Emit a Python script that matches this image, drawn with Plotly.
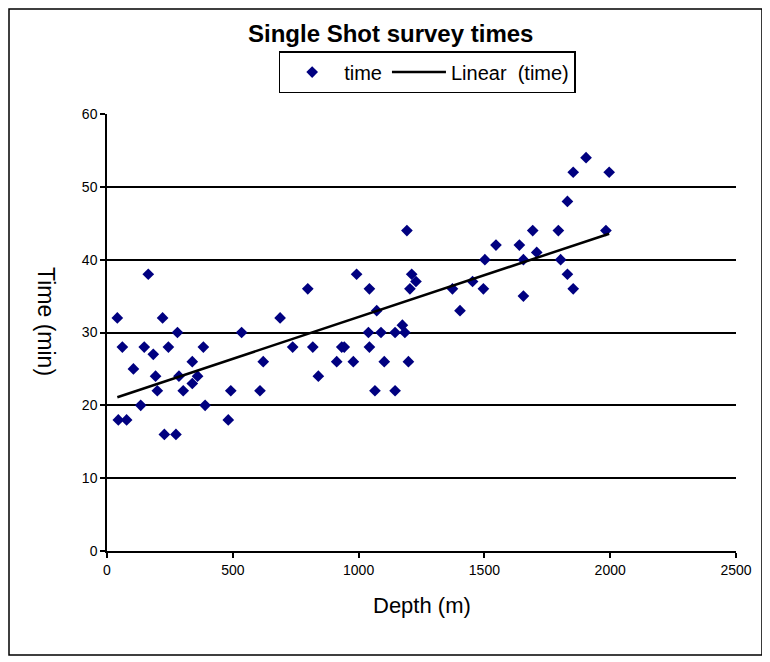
import numpy as np
import plotly.graph_objects as go

# Data
depth_m = [41, 45, 61, 78, 105, 134, 148, 164, 184, 193, 200, 221, 228, 244, 274, 280, 286, 303, 339, 339,
           360, 383, 390, 482, 492, 535, 608, 621, 688, 738,
           798, 818, 840, 913, 933, 943, 979, 992, 1039, 1043, 1043, 1065, 1072, 1089, 1102, 1145, 1145,
           1174, 1184, 1192, 1198, 1204, 1211, 1228,
           1373, 1403, 1453, 1496, 1502, 1546, 1639, 1655, 1655, 1692, 1708, 1794, 1803, 1830, 1830, 1853,
           1853, 1904, 1983, 1996]
time_min = [32, 18, 28, 18, 25, 20, 28, 38, 27, 24, 22, 32, 16, 28, 16, 30, 24, 22, 26, 23,
            24, 28, 20, 18, 22, 30, 22, 26, 32, 28,
            36, 28, 24, 26, 28, 28, 26, 38, 30, 36, 28, 22, 33, 30, 26, 30, 22,
            31, 30, 44, 26, 36, 38, 37,
            36, 33, 37, 36, 40, 42, 42, 40, 35, 44, 41, 44, 40, 48, 38, 52,
            36, 54, 44, 52]

x_ticks = [0, 500, 1000, 1500, 2000, 2500]
y_ticks = [0, 10, 20, 30, 40, 50, 60]

# Linear trendline (least squares), drawn across the data's depth range
slope, intercept = np.polyfit(depth_m, time_min, 1)
trend_x = [min(depth_m), max(depth_m)]
trend_y = [slope * v + intercept for v in trend_x]

FONT = "Arial, Liberation Sans, sans-serif"

fig = go.Figure()
fig.add_trace(go.Scatter(
    x=depth_m, y=time_min, mode="markers", name="time",
    marker=dict(symbol="diamond", size=9, color="#000080", line=dict(width=0)),
))
fig.add_trace(go.Scatter(
    x=trend_x, y=trend_y, mode="lines", name="Linear  (time)",
    line=dict(color="black", width=2.5),
))

fig.update_layout(
    width=762, height=654,
    margin=dict(l=99, r=34, t=106, b=111),
    paper_bgcolor="white", plot_bgcolor="white",
    font=dict(family=FONT, color="black"),
    showlegend=True,
    legend=dict(
        orientation="h", x=0.509, xanchor="center", y=1.144, yanchor="top",
        bordercolor="black", borderwidth=1.5, bgcolor="white",
        font=dict(size=20, family=FONT), itemwidth=54,
    ),
    xaxis=dict(
        range=[0, 2500], tickvals=x_ticks, ticktext=[str(v) for v in x_ticks],
        showgrid=False, zeroline=False,
        showline=True, linecolor="black", linewidth=1.5,
        ticks="outside", ticklen=5, tickcolor="black", tickwidth=1.5,
        tickfont=dict(size=14, family=FONT),
    ),
    yaxis=dict(
        range=[0, 60], tickvals=y_ticks, ticktext=[str(v) for v in y_ticks],
        showgrid=True, gridcolor="black", gridwidth=1.5, zeroline=False,
        showline=True, linecolor="black", linewidth=1.5,
        ticks="outside", ticklen=5, tickcolor="black", tickwidth=1.5,
        tickfont=dict(size=14, family=FONT),
    ),
    annotations=[
        dict(text="<b>Single Shot survey times</b>", xref="paper", yref="paper",
             x=0.451, y=1.185, xanchor="center", yanchor="middle", showarrow=False,
             font=dict(size=24, family=FONT)),
        dict(text="Time (min)", xref="paper", yref="paper", x=-0.097, y=0.524,
             xanchor="center", yanchor="middle", textangle=90, showarrow=False,
             font=dict(size=23, family=FONT)),
        dict(text="Depth (m)", xref="paper", yref="paper", x=0.5, y=-0.1236,
             xanchor="center", yanchor="middle", showarrow=False,
             font=dict(size=22, family=FONT)),
    ],
    shapes=[
        dict(type="rect", xref="paper", yref="paper", x0=-0.1558, x1=1.0413,
             y0=-0.238, y1=1.2403, line=dict(color="black", width=1.5),
             fillcolor="rgba(0,0,0,0)", layer="below"),
    ],
)

fig.write_html("out.html")
